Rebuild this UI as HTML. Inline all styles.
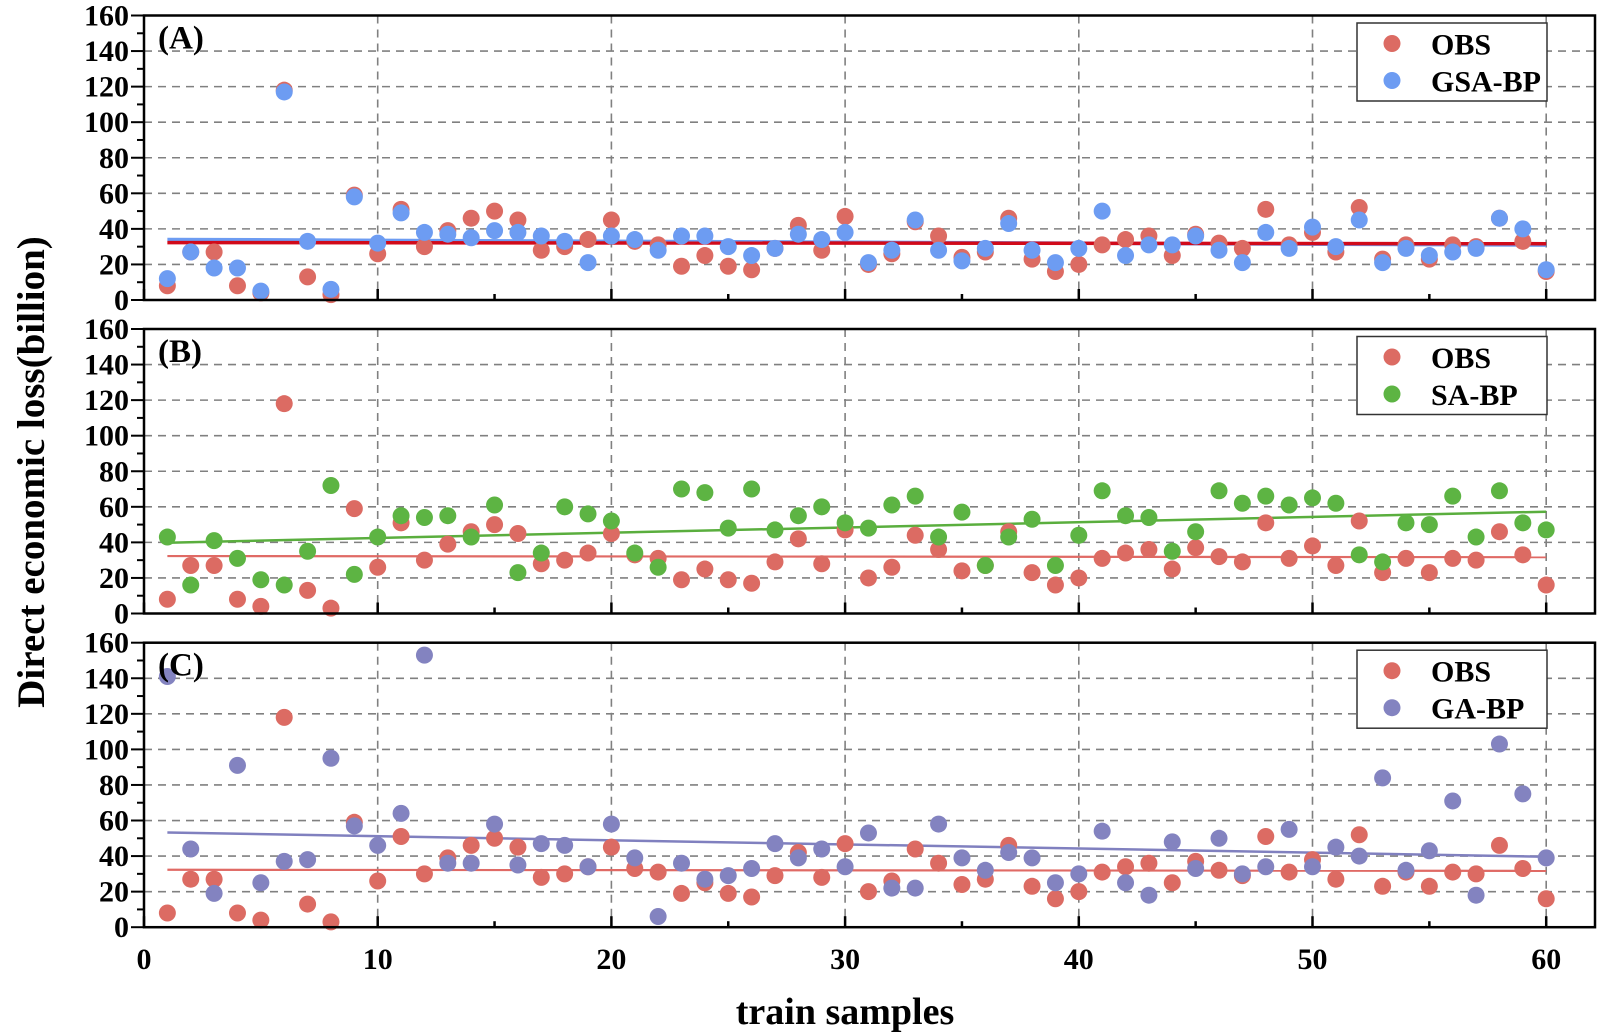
<!DOCTYPE html>
<html><head><meta charset="utf-8"><style>
html,body{margin:0;padding:0;background:#fff;}
svg{display:block;font-family:"Liberation Serif",serif;font-weight:bold;}
</style></head><body>
<svg id="chart" width="1600" height="1036" viewBox="0 0 1600 1036" xmlns="http://www.w3.org/2000/svg">
<text x="0" y="0" transform="translate(44,472) rotate(-90)" text-anchor="middle" font-size="39" font-weight="bold">Direct economic loss(billion)</text>
<text x="845" y="1024" text-anchor="middle" font-size="38" font-weight="bold">train samples</text>
</svg>
<script>
const samples = Array.from({length:60},(_,i)=>i+1);
const obs = [8,27,27,8,4,118,13,3,59,26,51,30,39,46,50,45,28,30,34,45,33,31,19,25,19,17,29,42,28,47,20,26,44,36,24,27,46,23,16,20,31,34,36,25,37,32,29,51,31,38,27,52,23,31,23,31,30,46,33,16];
const gsaBP = [12,27,18,18,5,117,33,6,58,32,49,38,37,35,39,38,36,33,21,36,34,28,36,36,30,25,29,37,34,38,21,28,45,28,22,29,43,28,21,29,50,25,31,31,36,28,21,38,29,41,30,45,21,29,25,27,29,46,40,17];
const saBP = [43,16,41,31,19,16,35,72,22,43,55,54,55,43,61,23,34,60,56,52,34,26,70,68,48,70,47,55,60,51,48,61,66,43,57,27,43,53,27,44,69,55,54,35,46,69,62,66,61,65,62,33,29,51,50,66,43,69,51,47];
const gaBP = [141,44,19,91,25,37,38,95,57,46,64,153,36,36,58,35,47,46,34,58,39,6,36,27,29,33,47,39,44,34,53,22,22,58,39,32,42,39,25,30,54,25,18,48,33,50,30,34,55,34,45,40,84,32,43,71,18,103,75,39];
const xTicks = [0,10,20,30,40,50,60];
const yTicks = [0,20,40,60,80,100,120,140,160];

const NS='http://www.w3.org/2000/svg';
const svg=document.getElementById('chart');
const X0=144, X1=1595, XU=233.7/10;
const PH=284.5, tops=[15.5,329,642.7];
function sx(v){return X0+v*XU;}
function mk(tag,attrs,parent){const e=document.createElementNS(NS,tag);for(const k in attrs)e.setAttribute(k,attrs[k]);(parent||svg).appendChild(e);return e;}
function fit(ys){const n=ys.length;let mx=0,my=0;for(let i=0;i<n;i++){mx+=samples[i];my+=ys[i];}mx/=n;my/=n;let a=0,b=0;for(let i=0;i<n;i++){a+=(samples[i]-mx)*(ys[i]-my);b+=(samples[i]-mx)**2;}const s=a/b;return [my-s*mx,s];}

const panels=[
 {label:'(A)',name:'GSA-BP',data:gsaBP,color:'#6d9cf2',line:'#6d9cf2',obsLine:'#d10a1a',obsW:3.5,predW:3.5},
 {label:'(B)',name:'SA-BP',data:saBP,color:'#5db443',line:'#5aae3e',obsLine:'#e06a65',obsW:2.2,predW:2.5},
 {label:'(C)',name:'GA-BP',data:gaBP,color:'#8383c0',line:'#8080bf',obsLine:'#e06a65',obsW:2.2,predW:2.5}
];
panels.forEach((p,pi)=>{
 const top=tops[pi], bot=top+PH;
 const sy=v=>bot-v*PH/160;
 const g=mk('g',{});
 
 
 yTicks.forEach(t=>{ if(t>0&&t<160){const l=mk('line',{x1:X0,x2:X1,y1:sy(t),y2:sy(t),stroke:'#808080','stroke-width':1.6,'stroke-dasharray':'8,6'},g);
  }});
 xTicks.forEach(t=>{ if(t>0){const l=mk('line',{x1:sx(t),x2:sx(t),y1:top,y2:bot,stroke:'#808080','stroke-width':1.6,'stroke-dasharray':'8,6'},g);
  }});
 for(let t=0;t<=160;t+=10){const major=t%20===0;const l=mk('line',{x1:X0-(major?13:7),x2:X0,y1:sy(t),y2:sy(t),stroke:'#000','stroke-width':2},g);
  }
 yTicks.forEach(t=>{const tx=mk('text',{x:X0-15,y:sy(t)+10,'text-anchor':'end','font-size':30,'font-weight':'bold'},g);tx.textContent=t;
  });
 for(let t=0;t<=65;t+=5){if(sx(t)>X1)break;const major=t%10===0;const l=mk('line',{x1:sx(t),x2:sx(t),y1:bot,y2:bot-(major?11:6),stroke:'#000','stroke-width':2.5},g);
  }
 if(pi===2){xTicks.forEach(t=>{const tx=mk('text',{x:sx(t),y:bot+42,'text-anchor':'middle','font-size':30,'font-weight':'bold'},g);tx.textContent=t;
  });}
 const drawFit=(ys,col,w,nm)=>{const [a,b]=fit(ys);const l=mk('line',{x1:sx(1),x2:sx(60),y1:sy(a+b*1),y2:sy(a+b*60),stroke:col,'stroke-width':w},g);
  };
 if(pi===0){drawFit(p.data,p.line,p.predW,'fit-line-pred');drawFit(obs,p.obsLine,p.obsW,'fit-line-obs');}
 else{drawFit(obs,p.obsLine,p.obsW,'fit-line-obs');drawFit(p.data,p.line,p.predW,'fit-line-pred');}
 const drawPts=(ys,col,nm)=>{ys.forEach((v,i)=>{const c=mk('circle',{cx:sx(samples[i]),cy:sy(v),r:8.5,fill:col},g);
  });};
 drawPts(obs,'#dc6b63','obs-point');
 drawPts(p.data,p.color,'pred-point');
 const f=mk('rect',{x:X0,y:top,width:X1-X0,height:PH,fill:'none',stroke:'#000','stroke-width':2.5},g);
 
 const lb=mk('text',{x:158,y:top+33,'font-size':33,'font-weight':'bold'},g);lb.textContent=p.label;
 
 const lg=mk('g',{},g);
 mk('rect',{x:1357,y:top+7.5,width:190,height:78,fill:'#fff',stroke:'#333','stroke-width':1.5},lg);
 mk('circle',{cx:1392,cy:top+28,r:8.5,fill:'#dc6b63'},lg);
 mk('circle',{cx:1392,cy:top+65,r:8.5,fill:p.color},lg);
 const t1=mk('text',{x:1431,y:top+39,'font-size':30,'font-weight':'bold'},lg);t1.textContent='OBS';
 
 const t2=mk('text',{x:1431,y:top+76,'font-size':30,'font-weight':'bold'},lg);t2.textContent=p.name;
 
});
</script>
</body></html>
